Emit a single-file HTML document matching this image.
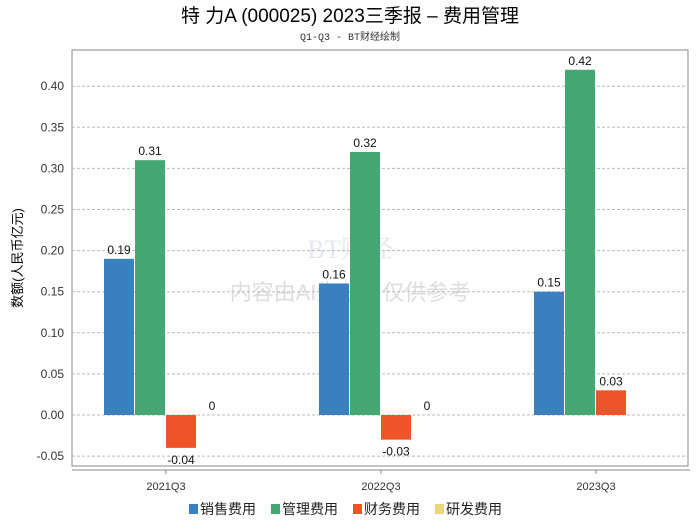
<!DOCTYPE html>
<html><head><meta charset="utf-8"><style>
body{margin:0;background:#fff;width:700px;height:524px;overflow:hidden;font-family:"Liberation Sans","Noto Sans CJK SC",sans-serif}
</style></head><body>
<svg id="c" width="700" height="524" xmlns="http://www.w3.org/2000/svg">
<text x="350" y="22" text-anchor="middle" font-size="19" font-family="Liberation Sans, Noto Sans CJK SC, sans-serif">特 力A (000025) 2023三季报 – 费用管理</text>
<text x="350" y="40" text-anchor="middle" font-size="10" fill="#333" font-family="Liberation Mono, Noto Sans CJK SC, monospace">Q1-Q3 - BT财经绘制</text>
<rect x="72" y="50" width="616" height="416" fill="none" stroke="#888"/>
<line x1="72" y1="470" x2="690" y2="470" stroke="#888"/>
<text x="22" y="258" transform="rotate(-90 22 258)" text-anchor="middle" font-size="13" font-family="Liberation Sans, Noto Sans CJK SC, sans-serif">数额(人民币亿元)</text>
<text x="350" y="300" text-anchor="middle" font-size="22" fill="#ddd" font-family="Liberation Sans, Noto Sans CJK SC, sans-serif">内容由AI生成，仅供参考</text>
<text x="350" y="258" text-anchor="middle" font-size="26" fill="#e4e8ee" font-family="Liberation Serif, Noto Serif CJK SC, serif">BT财经</text>
<g id="grid"></g><g id="bars"></g><g id="legend"></g>
</svg>
<script>
const categories=["2021Q3","2022Q3","2023Q3"];
const seriesNames=["销售费用","管理费用","财务费用","研发费用"];
const colors=["#3a80be","#45a874","#ef5428","#ecd77c"];
const sales=[0.19,0.16,0.15];
const admin=[0.31,0.32,0.42];
const finance=[-0.04,-0.03,0.03];
const rnd=[0,0,null];
const yTicks=[-0.05,0,0.05,0.1,0.15,0.2,0.25,0.3,0.35,0.4];
const series=[sales,admin,finance,rnd];
const NS="http://www.w3.org/2000/svg";
const y=v=>415-v*822;
const xc=i=>166+i*215;
function mk(t,a,p,txt){const e=document.createElementNS(NS,t);for(const k in a)e.setAttribute(k,a[k]);if(txt!==undefined)e.textContent=txt;p.appendChild(e);return e;}
const g=document.getElementById('grid'),b=document.getElementById('bars'),L=document.getElementById('legend');
yTicks.forEach(v=>{
 const l=mk('line',{x1:72,x2:688,y1:y(v),y2:y(v),stroke:'#bbb','stroke-dasharray':'3,2'},g);
 
 
 const t=mk('text',{x:64,y:y(v)+4,'text-anchor':'end','font-size':12,fill:'#333'},g,v.toFixed(2));
 
 
});
categories.forEach((c,i)=>{
 const tk=mk('line',{x1:xc(i),x2:xc(i),y1:470,y2:474,stroke:'#888'},g);
 
 
 const t=mk('text',{x:xc(i),y:490,'text-anchor':'middle','font-size':11,fill:'#333'},g,c);
 
 
 series.forEach((s,j)=>{
  const v=s[i],x0=xc(i)-62+j*31;
  if(v===null||v===undefined)return;
  if(v!==0){
   const r=mk('rect',{x:x0,y:Math.min(y(v),y(0)),width:30,height:Math.abs(y(v)-y(0)),fill:colors[j]},b);
   
   
  }
  const ly=v<0?y(v)+16:y(v)-5;
  const t=mk('text',{x:x0+15,y:ly,'text-anchor':'middle','font-size':12,fill:'#111'},b,String(v));
  
  
 });
});
let lx=189;
seriesNames.forEach((n,j)=>{
 const r=mk('rect',{x:lx,y:504,width:9,height:10,fill:colors[j]},L);
 
 
 const t=mk('text',{x:lx+11,y:514,'font-size':14,fill:'#222'},L,n);
 
 
 lx+=82;
});
</script>
</body></html>
